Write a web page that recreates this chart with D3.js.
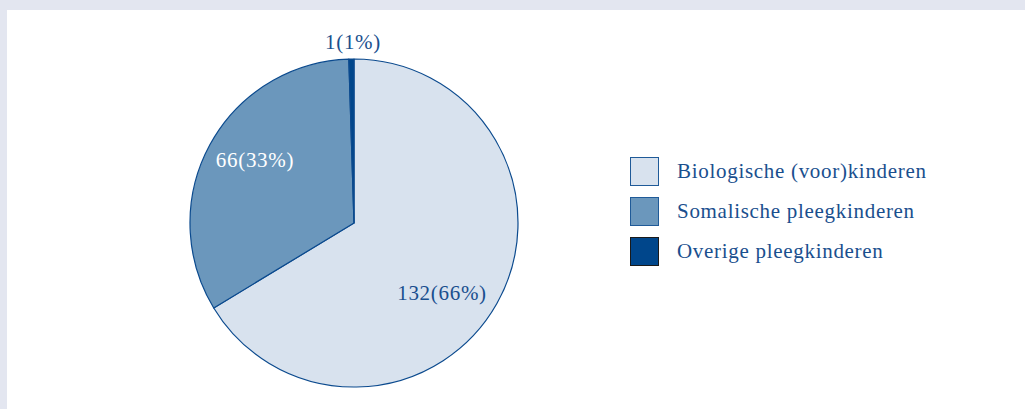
<!DOCTYPE html>
<html>
<head>
<meta charset="utf-8">
<script src="https://cdn.jsdelivr.net/npm/d3@7"></script>
<style>
  body { margin: 0; background: #e3e6f0; }
  svg { display: block; }
  .label { font-family: "Liberation Serif", "DejaVu Serif", serif; font-size: 21px; letter-spacing: 0.7px; }
</style>
</head>
<body>
<script>
//chart data
var categories = ["Biologische (voor)kinderen", "Somalische pleegkinderen", "Overige pleegkinderen"];
var counts = [132, 66, 1];
var percents = ["66%", "33%", "1%"];
var colors = ["#d8e2ee", "#6b97bc", "#00468b"];

var width = 1025, height = 409;

var svg = d3.select("body")
    .append("svg")
    .attr("width", width)
    .attr("height", height);

//grey frame with white panel
svg.append("rect")
    .attr("width", width)
    .attr("height", height)
    .attr("fill", "#e3e6f0");
svg.append("rect")
    .attr("x", 7)
    .attr("y", 10)
    .attr("width", width - 7)
    .attr("height", height - 10)
    .attr("fill", "#ffffff");

var cx = 354, cy = 223, radius = 164;

var pie = d3.pie()
    .sort(null)
    .value(function(d){ return d; });

var arc = d3.arc()
    .innerRadius(0)
    .outerRadius(radius);

var g = svg.append("g")
    .attr("transform", "translate(" + cx + "," + cy + ")");

var arcs = pie(counts);

g.selectAll(".slice")
    .data(arcs)
    .enter()
    .append("path")
    .attr("class", "slice")
    .attr("d", arc)
    .attr("fill", function(d, i){ return colors[i]; })
    .attr("stroke", "#0b4a8e")
    .attr("stroke-width", 1.2)
    .attr("stroke-linejoin", "round");

//slice labels (offsets from pie centre)
var labelPos = [
    [88, 77],
    [-99, -56],
    [-1, -174]
];
g.selectAll(".sliceLabel")
    .data(arcs)
    .enter()
    .append("text")
    .attr("class", "label sliceLabel")
    .attr("x", function(d, i){ return labelPos[i][0]; })
    .attr("y", function(d, i){ return labelPos[i][1]; })
    .attr("text-anchor", "middle")
    .attr("fill", function(d, i){ return i == 1 ? "#ffffff" : "#1a4f8e"; })
    .text(function(d, i){ return counts[i] + "(" + percents[i] + ")"; });

//legend
var legend = svg.selectAll(".legend")
    .data(categories)
    .enter()
    .append("g")
    .attr("class", "legend")
    .attr("transform", function(d, i){ return "translate(630," + (157 + i * 40) + ")"; });

legend.append("rect")
    .attr("x", 0.5)
    .attr("y", 0.5)
    .attr("width", 28)
    .attr("height", 28)
    .attr("fill", function(d, i){ return colors[i]; })
    .attr("stroke", function(d, i){ return i == 2 ? "#1a1a1a" : "#1f5a98"; })
    .attr("stroke-width", 1);

legend.append("text")
    .attr("class", "label")
    .attr("x", 47)
    .attr("y", 21)
    .attr("fill", "#1a4f8e")
    .text(function(d){ return d; });
</script>
</body>
</html>
